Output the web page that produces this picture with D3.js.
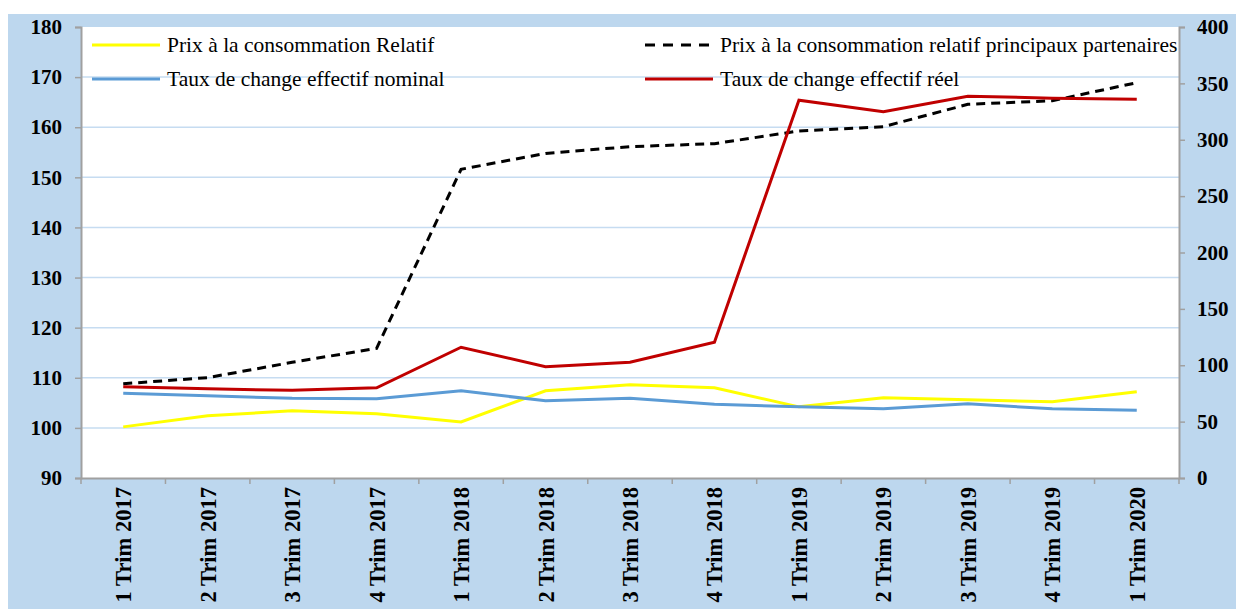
<!DOCTYPE html>
<html>
<head>
<meta charset="utf-8">
<script src="https://cdn.jsdelivr.net/npm/d3@7"></script>
<style>
  body { margin: 0; background: #fff; }
</style>
</head>
<body>
<div id="chart"></div>
<script>
var w = 1236, h = 615;
var serif = "'Liberation Serif', 'Times New Roman', serif";

// categories (quarters)
var quarters = ["1 Trim 2017", "2 Trim 2017", "3 Trim 2017", "4 Trim 2017",
                "1 Trim 2018", "2 Trim 2018", "3 Trim 2018", "4 Trim 2018",
                "1 Trim 2019", "2 Trim 2019", "3 Trim 2019", "4 Trim 2019",
                "1 Trim 2020"];

// left axis series
var prixRelatif = [100.2, 102.4, 103.4, 102.8, 101.2, 107.4, 108.6, 108.0, 104.2, 106.0, 105.6, 105.2, 107.2];
var tcenNominal = [106.9, 106.4, 105.9, 105.8, 107.4, 105.4, 105.9, 104.7, 104.2, 103.8, 104.8, 103.8, 103.5];
var tcerReel    = [108.2, 107.8, 107.5, 108.0, 116.1, 112.2, 113.1, 117.1, 165.4, 163.1, 166.2, 165.8, 165.6];
// right axis series
var prixPartenaires = [83.6, 89.0, 102.6, 115.0, 273.8, 287.9, 293.9, 296.5, 307.8, 311.6, 331.4, 334.6, 350.6];

var leftTicks = [90, 100, 110, 120, 130, 140, 150, 160, 170, 180];
var rightTicks = [0, 50, 100, 150, 200, 250, 300, 350, 400];

var series = [
  {name: "Prix à la consommation Relatif", values: prixRelatif, axis: "left", color: "#ffff00", dash: null},
  {name: "Prix à la consommation relatif principaux partenaires", values: prixPartenaires, axis: "right", color: "#000000", dash: "9,6"},
  {name: "Taux de change effectif nominal", values: tcenNominal, axis: "left", color: "#5b9bd5", dash: null},
  {name: "Taux de change effectif réel", values: tcerReel, axis: "left", color: "#c00000", dash: null}
];

var plot = {left: 81, right: 1179, top: 27, bottom: 478};

var svg = d3.select("#chart").append("svg")
    .attr("width", w)
    .attr("height", h)

// blue frame
svg.append("rect")
    .attr("x", 8).attr("y", 14)
    .attr("width", w - 8).attr("height", 595)
    .attr("fill", "#bdd7ee");

svg.append("rect")
    .attr("x", plot.left).attr("y", plot.top)
    .attr("width", plot.right - plot.left).attr("height", plot.bottom - plot.top)
    .attr("fill", "#ffffff");

var x = d3.scaleBand().domain(quarters).range([plot.left, plot.right]);
var yL = d3.scaleLinear().domain([90, 180]).range([plot.bottom, plot.top]);
var yR = d3.scaleLinear().domain([0, 400]).range([plot.bottom, plot.top]);

// gridlines
svg.append("g").selectAll("line")
    .data(leftTicks.filter(function(d){ return d > 90 && d < 180; }))
    .enter().append("line")
    .attr("x1", plot.left).attr("x2", plot.right)
    .attr("y1", function(d){ return yL(d); })
    .attr("y2", function(d){ return yL(d); })
    .attr("stroke", "#c6dcf1")
    .attr("stroke-width", 1.5);

// axes
var axisColor = "#a0a0a0";

var gL = svg.append("g")
    .attr("transform", "translate(" + plot.left + ",0)")
    .call(d3.axisLeft(yL).tickValues(leftTicks).tickSize(6).tickPadding(13));
var gR = svg.append("g")
    .attr("transform", "translate(" + plot.right + ",0)")
    .call(d3.axisRight(yR).tickValues(rightTicks).tickSize(6).tickPadding(12));
var gB = svg.append("g")
    .attr("transform", "translate(0," + plot.bottom + ")")
    .call(d3.axisBottom(x).tickSize(0).tickFormat(""));

// category boundary ticks
gB.selectAll(".bt")
    .data(quarters.concat(["end"]))
    .enter().append("line")
    .attr("class", "bt")
    .attr("x1", function(d, i){ return plot.left + i * x.bandwidth(); })
    .attr("x2", function(d, i){ return plot.left + i * x.bandwidth(); })
    .attr("y1", 0).attr("y2", 6)
    .attr("stroke", axisColor).attr("stroke-width", 1.5);

[gL, gR, gB].forEach(function(g){
    g.select(".domain").attr("stroke", axisColor).attr("stroke-width", 2);
    g.selectAll(".tick line").attr("stroke", axisColor).attr("stroke-width", 1.5);
    g.selectAll(".tick text")
        .attr("fill", "#000")
        .style("font-family", serif)
        .style("font-weight", "bold")
        .style("font-size", "21px");
});

// rotated category labels
svg.append("g").selectAll("text")
    .data(quarters)
    .enter().append("text")
    .attr("transform", function(d){
        return "translate(" + (x(d) + x.bandwidth() / 2 + 8) + "," + (plot.bottom + 9) + ") rotate(-90)";
    })
    .attr("text-anchor", "end")
    .style("font-family", serif)
    .style("font-weight", "bold")
    .style("font-size", "22.5px")
    .text(function(d){ return d; });

// lines
var drawOrder = [0, 2, 1, 3];
drawOrder.forEach(function(k){
    var s = series[k];
    var y = s.axis == "left" ? yL : yR;
    var line = d3.line()
        .x(function(d, i){ return x(quarters[i]) + x.bandwidth() / 2; })
        .y(function(d){ return y(d); });
    svg.append("path")
        .datum(s.values)
        .attr("d", line)
        .attr("fill", "none")
        .attr("stroke", s.color)
        .attr("stroke-width", 3)
        .attr("stroke-dasharray", s.dash);
});

// legend
var legendPos = [
    {x: 92, y: 45}, {x: 645, y: 45},
    {x: 92, y: 79}, {x: 645, y: 79}
];
series.forEach(function(s, i){
    var p = legendPos[i];
    svg.append("line")
        .attr("x1", p.x).attr("x2", p.x + 68)
        .attr("y1", p.y).attr("y2", p.y)
        .attr("stroke", s.color)
        .attr("stroke-width", 3)
        .attr("stroke-dasharray", s.dash == null ? null : "10,8");
    svg.append("text")
        .attr("x", p.x + 75)
        .attr("y", p.y + 7)
        .style("font-family", serif)
        .style("font-size", "21.5px")
        .text(s.name);
});
</script>
</body>
</html>
